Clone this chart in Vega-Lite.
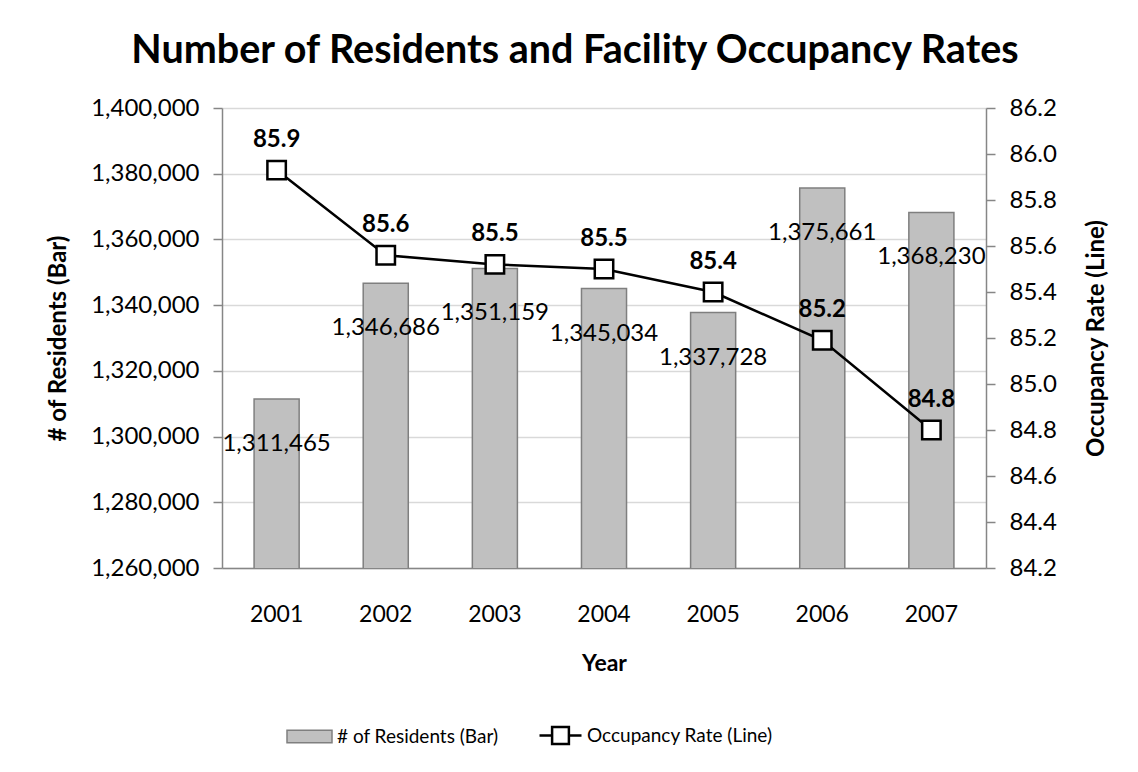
{
  "$schema": "https://vega.github.io/schema/vega-lite/v6.json",
  "autosize": {"type": "none"},
  "padding": {"left": 222, "top": 108, "right": 152, "bottom": 204},
  "width": 764,
  "height": 460,
  "background": "white",
  "title": {
    "text": "Number of Residents and Facility Occupancy Rates",
    "font": "Lato",
    "fontSize": 39.5,
    "fontWeight": "bold",
    "color": "#000000",
    "anchor": "middle",
    "dx": -29,
    "offset": 25
  },
  "data": {
    "values": [
      {"year": "2001", "residents": 1311465, "rate": 85.93},
      {"year": "2002", "residents": 1346686, "rate": 85.56},
      {"year": "2003", "residents": 1351159, "rate": 85.52},
      {"year": "2004", "residents": 1345034, "rate": 85.5},
      {"year": "2005", "residents": 1337728, "rate": 85.4},
      {"year": "2006", "residents": 1375661, "rate": 85.19},
      {"year": "2007", "residents": 1368230, "rate": 84.8}
    ]
  },
  "encoding": {
    "x": {
      "field": "year",
      "type": "ordinal",
      "scale": {"paddingInner": 0.587, "paddingOuter": 0.294},
      "axis": {
        "title": "Year",
        "labelAngle": 0,
        "ticks": false,
        "labelPadding": 35,
        "titlePadding": 26,
        "domainColor": "#868686",
        "domainWidth": 1.5,
        "labelFont": "Lato",
        "labelFontSize": 23,
        "labelColor": "#000000",
        "titleFont": "Lato",
        "titleFontSize": 23,
        "titleFontWeight": "bold",
        "titleColor": "#000000"
      }
    }
  },
  "layer": [
    {
      "encoding": {
        "y": {
          "field": "residents",
          "type": "quantitative",
          "scale": {"domain": [1260000, 1400000], "nice": false, "zero": false},
          "axis": {
            "title": "# of Residents (Bar)",
            "orient": "left",
            "values": [1260000, 1280000, 1300000, 1320000, 1340000, 1360000, 1380000, 1400000],
            "format": ",d",
            "grid": true,
            "gridColor": "#d9d9d9",
            "gridWidth": 1.5,
            "domainColor": "#868686",
            "domainWidth": 1.5,
            "tickColor": "#868686",
            "tickWidth": 1.5,
            "tickSize": 9,
            "labelPadding": 14,
            "labelFont": "Lato",
            "labelFontSize": 24,
            "labelColor": "#000000",
            "titleFont": "Lato",
            "titleFontSize": 24,
            "titleFontWeight": "bold",
            "titleColor": "#000000",
            "titlePadding": 20
          }
        }
      },
      "layer": [
        {
          "mark": {"type": "bar", "stroke": "#7f7f7f", "strokeWidth": 1.5, "clip": true},
          "encoding": {
            "fill": {
              "datum": "# of Residents (Bar)",
              "type": "nominal",
              "scale": {"domain": ["# of Residents (Bar)"], "range": ["#c0c0c0"]},
              "legend": {
                "title": null,
                "orient": "none",
                "legendX": 64,
                "legendY": 605,
                "direction": "horizontal",
                "symbolType": "M-1,-0.28H1V0.28H-1Z",
                "symbolSize": 2025,
                "symbolStrokeColor": "#7f7f7f",
                "symbolStrokeWidth": 1.5,
                "labelFont": "Lato",
                "labelFontSize": 19,
                "labelColor": "#000000",
                "labelOffset": 4,
                "labelLimit": 400
              }
            }
          }
        },
        {
          "mark": {"type": "text", "dy": 45, "font": "Lato", "fontSize": 24, "color": "#000000", "baseline": "middle"},
          "encoding": {
            "text": {"field": "residents", "type": "quantitative", "format": ",d"}
          }
        }
      ]
    },
    {
      "encoding": {
        "y": {
          "field": "rate",
          "type": "quantitative",
          "scale": {"domain": [84.2, 86.2], "nice": false, "zero": false},
          "axis": {
            "title": "Occupancy Rate (Line)",
            "orient": "right",
            "values": [84.2, 84.4, 84.6, 84.8, 85.0, 85.2, 85.4, 85.6, 85.8, 86.0, 86.2],
            "format": ".1f",
            "grid": false,
            "domainColor": "#868686",
            "domainWidth": 1.5,
            "tickColor": "#868686",
            "tickWidth": 1.5,
            "tickSize": 9,
            "labelPadding": 14,
            "labelFont": "Lato",
            "labelFontSize": 24,
            "labelColor": "#000000",
            "titleFont": "Lato",
            "titleFontSize": 24,
            "titleFontWeight": "bold",
            "titleColor": "#000000",
            "titleAngle": 270,
            "titlePadding": 52
          }
        }
      },
      "layer": [
        {
          "mark": {"type": "line", "color": "#000000", "strokeWidth": 2.5},
          "encoding": {
            "stroke": {
              "datum": "Occupancy Rate (Line)",
              "type": "nominal",
              "scale": {"domain": ["Occupancy Rate (Line)"], "range": ["#000000"]},
              "legend": {
                "title": null,
                "orient": "none",
                "legendX": 316,
                "legendY": 605,
                "direction": "horizontal",
                "symbolType": "M-1,0H-0.4M0.4,0H1M-0.4,-0.4H0.4V0.4H-0.4Z",
                "symbolSize": 1764,
                "symbolStrokeWidth": 2.5,
                "symbolFillColor": "#ffffff",
                "labelFont": "Lato",
                "labelFontSize": 19,
                "labelColor": "#000000",
                "labelOffset": 4,
                "labelLimit": 400
              }
            }
          }
        },
        {
          "mark": {"type": "point", "shape": "square", "filled": true, "fill": "#ffffff", "stroke": "#000000", "strokeWidth": 2.5, "size": 340, "opacity": 1},
          "encoding": {}
        },
        {
          "mark": {"type": "text", "dy": -30, "font": "Lato", "fontSize": 24, "fontWeight": "bold", "color": "#000000", "baseline": "middle"},
          "encoding": {
            "text": {"field": "rate", "type": "quantitative", "format": ".1f"}
          }
        }
      ]
    }
  ],
  "resolve": {"scale": {"y": "independent"}},
  "config": {"view": {"stroke": null}}
}
